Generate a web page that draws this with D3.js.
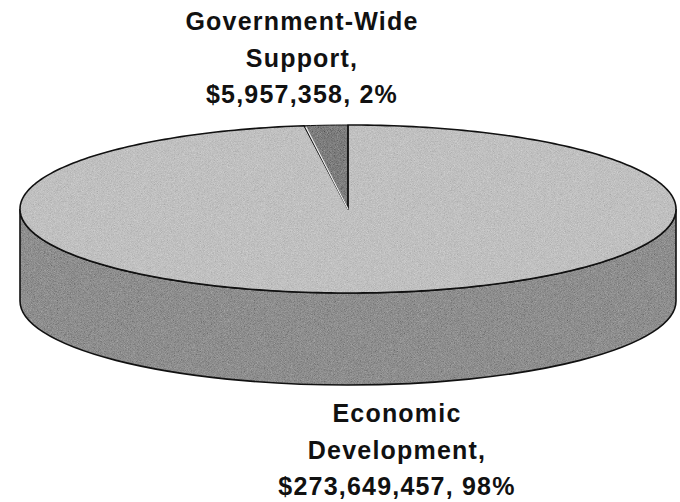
<!DOCTYPE html>
<meta charset="utf-8">
<style>
body { margin: 0; background: #fff; }
.label { font-family: "Liberation Sans", Arial, sans-serif; font-weight: bold; font-size: 25px; letter-spacing: 1.2px; fill: #111; }
</style>
<svg width="680" height="502"></svg>
<script src="https://d3js.org/d3.v7.min.js"></script>
<script>

var categories = ["Economic Development", "Government-Wide Support"];
var amounts = [273649457, 5957358];
var labelNames = [["Economic", "Development,"], ["Government-Wide", "Support,"]];

var svg = d3.select("svg");

// ellipse geometry of the tilted pie
var cx = 348, cy = 209, rx = 328, ry = 84, depth = 92;
var faceFill = ["#c0c0c0", "#7d7d7d"],
    sideFill = "#8e8e8e";

var defs = svg.append("defs");
var grain = defs.append("filter").attr("id", "grain")
    .attr("x", "-5%").attr("y", "-5%").attr("width", "110%").attr("height", "110%");
grain.append("feTurbulence")
    .attr("type", "fractalNoise").attr("baseFrequency", 1.3)
    .attr("numOctaves", 1).attr("seed", 7).attr("result", "noise");
grain.append("feColorMatrix").attr("in", "noise").attr("type", "matrix")
    .attr("values", "0.33 0.33 0.33 0 0  0.33 0.33 0.33 0 0  0.33 0.33 0.33 0 0  0 0 0 0 1")
    .attr("result", "gray");
grain.append("feComposite").attr("in", "SourceGraphic").attr("in2", "gray")
    .attr("operator", "arithmetic").attr("k1", 0).attr("k2", 1).attr("k3", 0.6).attr("k4", -0.3)
    .attr("result", "mix");
grain.append("feComposite").attr("in", "mix").attr("in2", "SourceAlpha").attr("operator", "in");

var pie = d3.pie().sort(null).value(function(d) { return d; });
var arcs = pie(amounts);

function pt(a, dy) {
  return [cx + rx * Math.sin(a), cy - ry * Math.cos(a) + (dy || 0)];
}

function slicePath(d) {
  var n = Math.max(4, Math.ceil((d.endAngle - d.startAngle) / 0.02));
  var pts = d3.range(n + 1).map(function(i) {
    return pt(d.startAngle + (d.endAngle - d.startAngle) * i / n);
  });
  return "M" + cx + "," + cy + "L" + pts.map(function(p) { return p.join(","); }).join("L") + "Z";
}

// visible front wall (right -> bottom -> left)
var R = pt(Math.PI / 2), Lp = pt(3 * Math.PI / 2);
var sidePath = "M" + R + "A" + rx + "," + ry + " 0 0 1 " + Lp +
    "L" + [Lp[0], Lp[1] + depth] +
    "A" + rx + "," + ry + " 0 0 0 " + [R[0], R[1] + depth] + "Z";

svg.append("path").attr("d", sidePath)
    .attr("fill", sideFill).attr("filter", "url(#grain)");
svg.append("path").attr("d", sidePath)
    .attr("fill", "none").attr("stroke", "#111").attr("stroke-width", 1.6);

svg.selectAll(".face").data(arcs).enter().append("path")
    .attr("class", "face")
    .attr("d", slicePath)
    .attr("fill", function(d, i) { return faceFill[i]; })
    .attr("filter", "url(#grain)");

svg.selectAll(".edge").data(arcs).enter().append("path")
    .attr("class", "edge")
    .attr("d", slicePath)
    .attr("fill", "none")
    .attr("stroke", "#111")
    .attr("stroke-width", function(d, i) { return i ? 1 : 1.6; })
    .attr("stroke-linejoin", "round");

// light highlight along wedge's left edge
var g0 = pt(arcs[1].startAngle);
svg.append("line")
    .attr("x1", cx).attr("y1", cy).attr("x2", g0[0] + 1.5).attr("y2", g0[1] + 1)
    .attr("stroke", "#f4f4f4").attr("stroke-width", 1.2);

// labels
var total = d3.sum(amounts);
var money = d3.format("$,"), pct = d3.format(".0%");
var labelPos = [[397, 422], [302, 30]];

arcs.forEach(function(d, i) {
  var lines = labelNames[i].concat([money(amounts[i]) + ", " + pct(amounts[i] / total)]);
  var t = svg.append("text").attr("class", "label")
      .attr("text-anchor", "middle")
      .attr("x", labelPos[i][0]).attr("y", labelPos[i][1]);
  lines.forEach(function(s, j) {
    t.append("tspan").attr("x", labelPos[i][0]).attr("dy", j ? 36.5 : 0).text(s);
  });
});

</script>
